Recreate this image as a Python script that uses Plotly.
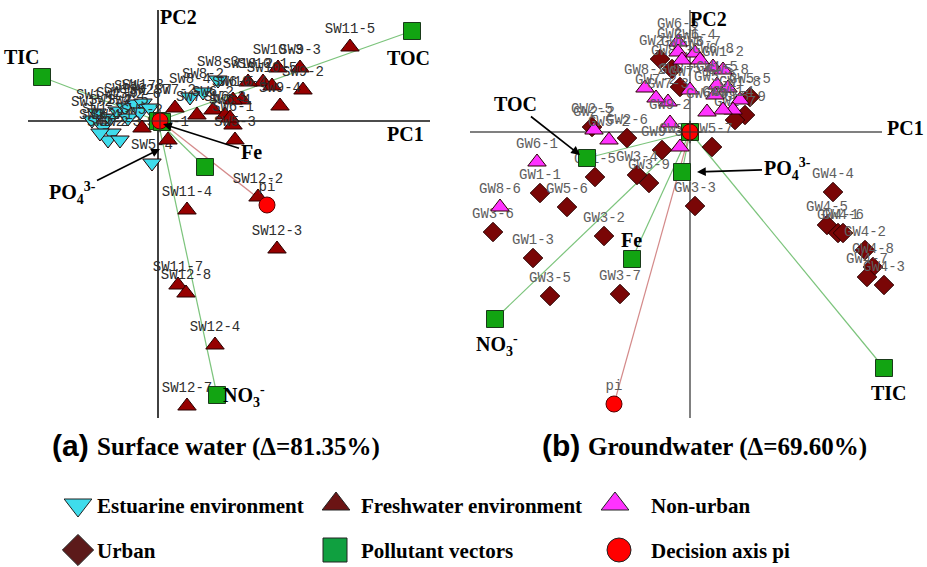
import plotly.graph_objects as go

W, H = 927, 567

# ---------------- Panel (a): surface water, PCA scores (PC1, PC2) ----------------
sw_est_labels = ["SW1-1", "SW1-2", "SW1-3", "SW1-4", "SW1-5", "SW1-6", "SW1-7", "SW1-8",
                 "SW2-1", "SW2-2", "SW2-3", "SW2-4", "SW2-5", "SW2-6", "SW2-7", "SW5-4",
                 "SW8-2", "SW8-3", "SW8-4"]
sw_est_pc1 = [-61, -66, -55, -48, -41, -33, -23, -15, -46, -50, -38, -58, -30, -18, -8, -6, 45, 60, 32]
sw_est_pc2 = [8, 1, -6, 3, 10, 14, 17, 18, -12, -19, -19, -12, 3, 9, 13, -42, 29, 41, 24]

sw_fresh_labels = ["SW11-5", "SW9-3", "SW9-2", "SW9-4", "SW10-3", "SW10-1", "SW10-2", "SW10-4",
                   "SW10-5", "SW6-5", "SW6-2", "SW6-3", "SW6-1", "SW5-3", "SW7-1", "SW7-2",
                   "SW5-1", "SW5-2", "SW6-4", "SW12-2", "SW12-3", "SW11-4", "SW11-7", "SW12-8",
                   "SW12-4", "SW12-7"]
sw_fresh_pc1 = [192, 142, 145, 122, 120, 105, 90, 84, 114, 75, 55, 67, 75, 77, 39, 17,
                10, -16, 72, 100, 119, 29, 20, 28, 57, 29]
sw_fresh_pc2 = [74, 53, 31, 15, 53, 39, 39, 21, 35, 21, 11, 6, -4, -19, 6, 13,
                -19, -7, 3, -76, -128, -89, -164, -172, -224, -285]

sw_vec_names = ["TIC", "TOC", "Fe", "PO4", "NO3"]
sw_vec_pc1 = [-116, 254, 4, 47, 59]
sw_vec_pc2 = [44, 90, -1, -46, -274]

sw_pi_pc1 = [2, 109]
sw_pi_pc2 = [0, -84]
sw_pi_labels = ["", "pi"]

# ---------------- Panel (b): groundwater ----------------
gw_nonurban_labels = ["GW6-5", "GW2-1", "GW2-3", "GW6-4", "GW6-7", "GW6-8", "GW1-2", "GW1-5",
                      "GW5-8", "GW5-3", "GW1-8", "GW5-4", "GW5-1", "GW6-3", "GW7-1", "GW7-3",
                      "GW7-2", "GW8-2", "GW9-2", "GW9-1", "GW2-2", "GW5-2", "GW6-1", "GW8-6"]
gw_nonurban_pc1 = [-12, -12, -8, 5, 10, 23, 33, 27, 38, 25, 50, 43, 33, 17, 0, -22,
                   -34, -45, -20, -10, -96, -81, -153, -190]
gw_nonurban_pc2 = [90, 80, 72, 79, 72, 65, 62, 47, 44, 37, 32, 22, 22, 20, 42, 30,
                   34, 44, 9, -15, 2, -8, -30, -75]

gw_urban_labels = ["GW2-4", "GW8-3", "GW8-5", "GW5-5", "GW5-9", "GW1-7", "GW2-5", "GW2-6",
                   "GW9-3", "GW5-7", "GW3-4", "GW3-9", "GW1-5", "GW1-1", "GW5-6", "GW3-6",
                   "GW3-2", "GW1-3", "GW3-5", "GW3-7", "GW3-3", "GW4-4", "GW4-5", "GW4-1",
                   "GW4-6", "GW4-2", "GW4-8", "GW4-7", "GW4-3"]
gw_urban_pc1 = [-30, -18, -10, 60, 55, 45, -98, -63, -28, 22, -53, -41, -95, -150, -123, -197,
                -86, -157, -140, -70, 5, 143, 137, 148, 153, 175, 183, 177, 194]
gw_urban_pc2 = [73, 63, 45, 35, 17, 12, 5, -6, -18, -15, -43, -51, -45, -61, -75, -100,
                -104, -126, -164, -162, -74, -60, -93, -101, -101, -118, -135, -145, -153]

gw_vec_names = ["TOC", "PO4", "Fe", "NO3", "TIC"]
gw_vec_pc1 = [-103, -8, -58, -195, 194]
gw_vec_pc2 = [-26, -40, -127, -187, -236]

gw_pi_pc1 = [0, -76]
gw_pi_pc2 = [0, -272]
gw_pi_labels = ["", "pi"]

# ---------------- Legend / titles ----------------
legend_names = ["Estuarine environment", "Freshwater environment", "Non-urban",
                "Urban", "Pollutant vectors", "Decision axis pi"]
panel_tags = ["(a)", "(b)"]
panel_titles = ["Surface water (Δ=81.35%)", "Groundwater (Δ=69.60%)"]

C_EST = "#3fdcec"
C_FRESH = "#960000"
C_NONURB = "#ff33ff"
C_URB = "#7a0606"
C_VEC = "#12a412"
C_PI = "#ff0000"
C_VLINE = "#7cc47c"
C_PLINE = "#d48a8a"

BOLD = "Liberation Serif"

fig = go.Figure()


def add_panel(xa, ya, axis_color, axis_width, ax_x, ax_y, lbl_color,
              groups, vec_x, vec_y, pi_x, pi_y, pi_lbl):
    lbl_font = dict(family="Liberation Mono", size=14, color=lbl_color)
    fig.add_trace(go.Scatter(x=ax_x, y=[0, 0], mode="lines", xaxis=xa, yaxis=ya,
                             line=dict(color=axis_color, width=axis_width),
                             hoverinfo="skip", showlegend=False))
    fig.add_trace(go.Scatter(x=[0, 0], y=ax_y, mode="lines", xaxis=xa, yaxis=ya,
                             line=dict(color=axis_color, width=axis_width),
                             hoverinfo="skip", showlegend=False))
    for vx, vy in zip(vec_x, vec_y):
        fig.add_trace(go.Scatter(x=[0, vx], y=[0, vy], mode="lines", xaxis=xa, yaxis=ya,
                                 line=dict(color=C_VLINE, width=1.2),
                                 hoverinfo="skip", showlegend=False))
    fig.add_trace(go.Scatter(x=[pi_x[0], pi_x[1]], y=[pi_y[0], pi_y[1]], mode="lines",
                             xaxis=xa, yaxis=ya, line=dict(color=C_PLINE, width=1.2),
                             hoverinfo="skip", showlegend=False))
    for (gx, gy, gl, sym, col, size) in groups:
        fig.add_trace(go.Scatter(x=gx, y=gy, text=gl, mode="markers+text",
                                 textposition="top center", textfont=lbl_font,
                                 xaxis=xa, yaxis=ya,
                                 marker=dict(symbol=sym, color=col, size=size, opacity=1,
                                             line=dict(color="#2a0000", width=1)),
                                 showlegend=False))
    fig.add_trace(go.Scatter(x=[0] + list(vec_x), y=[0] + list(vec_y), mode="markers",
                             xaxis=xa, yaxis=ya,
                             marker=dict(symbol="square", color=C_VEC, size=17, opacity=1,
                                         line=dict(color="#1a3a1a", width=1)),
                             showlegend=False))
    fig.add_trace(go.Scatter(x=pi_x, y=pi_y, text=pi_lbl, mode="markers+text",
                             textposition="top center", textfont=lbl_font,
                             xaxis=xa, yaxis=ya,
                             marker=dict(symbol="circle", color=C_PI, size=16, opacity=1,
                                         line=dict(color="#550000", width=1)),
                             showlegend=False))
    fig.add_trace(go.Scatter(x=[pi_x[0]], y=[pi_y[0]], mode="markers", xaxis=xa, yaxis=ya,
                             marker=dict(symbol="cross-thin", size=16,
                                         line=dict(color="#333", width=1.2)),
                             hoverinfo="skip", showlegend=False))


add_panel("x", "y", "#111111", 1.6, [-130, 272], [111, -297], "#2e2e2e",
          [(sw_est_pc1, sw_est_pc2, sw_est_labels, "triangle-down", C_EST, 16),
           (sw_fresh_pc1, sw_fresh_pc2, sw_fresh_labels, "triangle-up", C_FRESH, 16)],
          sw_vec_pc1, sw_vec_pc2, sw_pi_pc1, sw_pi_pc2, sw_pi_labels)

add_panel("x2", "y2", "#808080", 2, [-220, 192], [122, -286], "#5e5e5e",
          [(gw_urban_pc1, gw_urban_pc2, gw_urban_labels, "diamond", C_URB, 15),
           (gw_nonurban_pc1, gw_nonurban_pc2, gw_nonurban_labels, "triangle-up", C_NONURB, 16)],
          gw_vec_pc1, gw_vec_pc2, gw_pi_pc1, gw_pi_pc2, gw_pi_labels)

# legend markers on an overlay pixel axis
leg_sym = ["triangle-down", "triangle-up", "triangle-up", "diamond", "square", "circle"]
leg_col = [C_EST, "#6b1414", C_NONURB, "#5c1a1a", "#10a040", C_PI]
leg_x = [78, 336, 615, 78, 335, 619]
leg_y = [505, 504, 504, 550, 550, 550]
for s, c, lx, ly in zip(leg_sym, leg_col, leg_x, leg_y):
    fig.add_trace(go.Scatter(x=[lx], y=[ly], mode="markers", xaxis="x3", yaxis="y3",
                             marker=dict(symbol=s, color=c, size=24, opacity=1,
                                         line=dict(color="#222", width=1)),
                             hoverinfo="skip", showlegend=False))

yd = [1 - 425 / H, 1]
fig.update_layout(
    width=W, height=H, margin=dict(l=0, r=0, t=0, b=0),
    paper_bgcolor="white", plot_bgcolor="rgba(0,0,0,0)",
    xaxis=dict(domain=[0, 455 / W], range=[-158, 297], visible=False),
    yaxis=dict(domain=yd, range=[121 - 425, 121], visible=False),
    xaxis2=dict(domain=[455 / W, 1], range=[455 - 690, 927 - 690], visible=False),
    yaxis2=dict(domain=yd, range=[132 - 425, 132], visible=False, anchor="x2"),
    xaxis3=dict(domain=[0, 1], range=[0, W], visible=False, anchor="y3"),
    yaxis3=dict(domain=[0, 1], range=[H, 0], visible=False, anchor="x3"),
    showlegend=False,
)


def btxt(txt, x, y, xref, yref, size=20, **kw):
    fig.add_annotation(text="<b>" + txt + "</b>", x=x, y=y, xref=xref, yref=yref,
                       showarrow=False, font=dict(family=BOLD, size=size, color="black"), **kw)


def arrow(txt, hx, hy, ax, ay, xref, yref, size=20):
    fig.add_annotation(text="<b>" + txt + "</b>", x=hx, y=hy, xref=xref, yref=yref,
                       ax=ax, ay=ay, showarrow=True, arrowhead=2, arrowsize=1.1,
                       arrowwidth=1.6, arrowcolor="black",
                       font=dict(family=BOLD, size=size, color="black"))


PO4 = "PO<sub>4</sub><sup>3-</sup>"
NO3 = "NO<sub>3</sub><sup>-</sup>"

# panel (a) labels
btxt("PC2", 20, 104, "x", "y")
btxt("TIC", -136, 64, "x", "y")
btxt("TOC", 250, 63, "x", "y")
btxt("PC1", 247, -13, "x", "y")
btxt(NO3, 86, -275, "x", "y")
arrow("Fe", 5, -3, 88, 28, "x", "y")
arrow(PO4, 2, -28, -88, 44, "x", "y")

# panel (b) labels
btxt("PC2", 18, 113, "x2", "y2")
btxt("PC1", 215, 4, "x2", "y2")
btxt("Fe", -59, -108, "x2", "y2")
btxt(NO3, -193, -213, "x2", "y2")
btxt("TIC", 199, -261, "x2", "y2")
arrow("TOC", -110, -23, -65, -51, "x2", "y2")
arrow(PO4, 7, -40, 90, -3, "x2", "y2")

# panel titles
for tag, title, tx, ttx in zip(panel_tags, panel_titles, [50, 540], [95, 586]):
    fig.add_annotation(text="<b>" + tag + "</b>", x=tx, y=445, xref="x3", yref="y3",
                       xanchor="left", showarrow=False,
                       font=dict(family="Liberation Sans", size=30, color="black"))
    fig.add_annotation(text="<b>" + title + "</b>", x=ttx, y=447, xref="x3", yref="y3",
                       xanchor="left", showarrow=False,
                       font=dict(family=BOLD, size=25, color="black"))

# legend texts
leg_tx = [95, 359, 649, 95, 359, 649]
leg_ty = [506, 506, 506, 551, 551, 551]
for name, tx, ty in zip(legend_names, leg_tx, leg_ty):
    fig.add_annotation(text="<b>" + name + "</b>", x=tx, y=ty, xref="x3", yref="y3",
                       xanchor="left", showarrow=False,
                       font=dict(family=BOLD, size=21, color="black"))

fig.write_html("out.html", config={"displayModeBar": False},
               post_script="document.body.style.margin='0';document.body.style.overflow='hidden';")
